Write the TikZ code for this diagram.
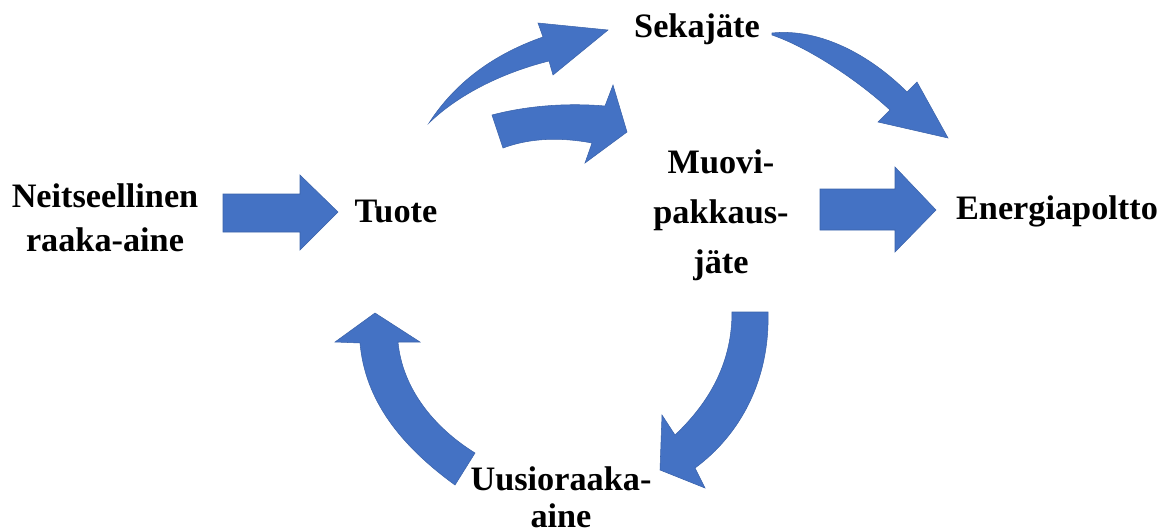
\documentclass[tikz,border=0pt]{standalone}
\usepackage{fontspec}
\setmainfont{Liberation Serif}
\definecolor{ablue}{HTML}{4472C4}
\definecolor{aedge}{HTML}{3A62AA}
\begin{document}
\begin{tikzpicture}[x=0.02cm,y=-0.02cm,
  lbl/.style={font=\bfseries\fontsize{19.5}{25}\selectfont, align=center, inner sep=0pt},
  barrow/.style={fill=ablue, draw=aedge, line width=0.3pt, line join=miter}]
\useasboundingbox (0,0) rectangle (1171,528);
% labels
\node[lbl] (neit) at (105,218) {Neitseellinen\\raaka-aine};
\node[lbl] (tuote) at (396,211) {Tuote};
\node[lbl] (seka) at (697,29) {Sekajäte};
\node[lbl, font=\bfseries\fontsize{19.5}{28.5}\selectfont] (muovi) at (721,215) {Muovi-\\pakkaus-\\jäte};
\node[lbl] (energia) at (1057,211) {Energiapoltto};
\node[lbl, font=\bfseries\fontsize{19.5}{21}\selectfont] (uusio) at (561,497) {Uusioraaka-\\aine};
% straight arrows
\draw[barrow] (223,194) -- (300,194) -- (300,175) -- (338,212) -- (300,250) -- (300,232) -- (223,232) -- cycle;
\draw[barrow] (820,189) -- (895,189) -- (895,167) -- (936,210) -- (895,252) -- (895,230) -- (820,230) -- cycle;
% Tuote -> Sekajate
\draw[barrow] (429,123) .. controls (458,78) and (500,52) .. (543,37) -- (538,23) -- (608,30) -- (553,75) -- (549,61)
  .. controls (505,72) and (460,93) .. (429,123) -- cycle;
% Tuote -> Muovi
\draw[barrow] (492,115) .. controls (530,105) and (570,103) .. (605,106) -- (613,85) -- (627,132) -- (585,163) -- (592,143)
  .. controls (560,137) and (530,138) .. (503,148) -- cycle;
% Sekajate -> Energiapoltto
\draw[barrow] (772,33) .. controls (820,28) and (870,55) .. (907,92) -- (917,82) -- (948,138) -- (878,122) -- (890,110)
  .. controls (860,82) and (810,48) .. (772,35) -- cycle;
% Muovi -> Uusio
\draw[barrow] (732,312) -- (768,312) .. controls (770,380) and (740,435) .. (695,468) -- (705,488) -- (660,470) -- (662,415) -- (675,435)
  .. controls (712,400) and (732,360) .. (732,312) -- cycle;
% Uusio -> Tuote
\draw[barrow] (475,453) -- (455,485) .. controls (400,445) and (365,400) .. (360,343) -- (335,342) -- (375,313) -- (420,342) -- (398,342)
  .. controls (402,385) and (430,425) .. (475,453) -- cycle;
\end{tikzpicture}
\end{document}
